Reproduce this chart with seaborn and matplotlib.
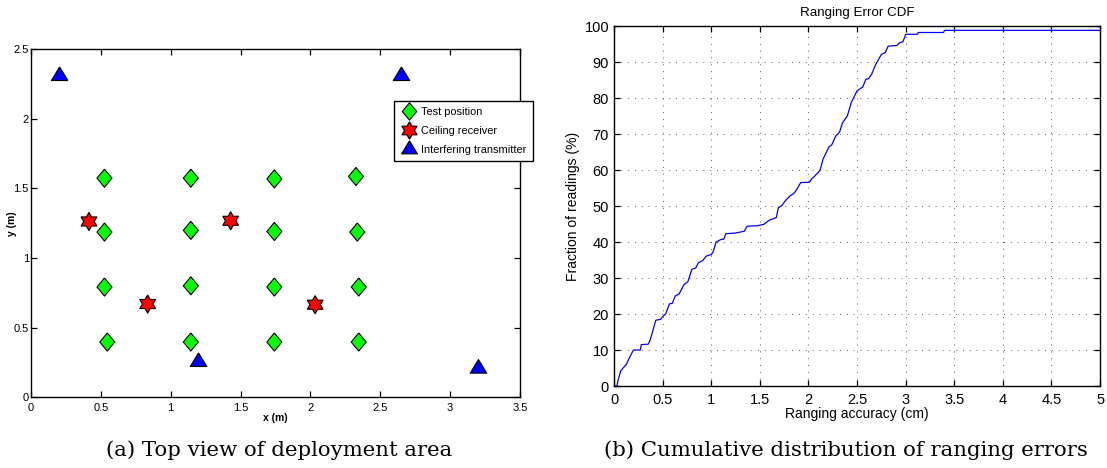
import numpy as np
import pandas as pd
import seaborn as sns
from matplotlib import pyplot as plt

# deployment area (m)
test_x = [0.526, 0.526, 0.526, 0.546, 1.144, 1.144, 1.144, 1.144,
          1.742, 1.742, 1.742, 1.742, 2.326, 2.336, 2.346, 2.346]
test_y = [1.574, 1.187, 0.792, 0.397, 1.574, 1.199, 0.801, 0.397,
          1.569, 1.191, 0.792, 0.397, 1.586, 1.187, 0.792, 0.397]
recv_x = [0.415, 1.429, 0.835, 2.034]
recv_y = [1.263, 1.268, 0.670, 0.665]
intf_x = [0.205, 2.652, 1.199, 3.203]
intf_y = [2.308, 2.308, 0.254, 0.206]
labels = ["Test position", "Ceiling receiver", "Interfering transmitter"]

# ranging error CDF
acc = [0.0, 0.03, 0.04, 0.07, 0.10, 0.13, 0.16, 0.20, 0.27, 0.28, 0.35, 0.37,
       0.43, 0.48, 0.50, 0.53, 0.57, 0.60, 0.63, 0.67, 0.72, 0.76, 0.80, 0.84,
       0.87, 0.91, 0.95, 1.00, 1.02, 1.05, 1.10, 1.13, 1.15, 1.25, 1.34, 1.37,
       1.47, 1.54, 1.60, 1.67, 1.69, 1.73, 1.76, 1.81, 1.85, 1.88, 1.92, 2.01,
       2.03, 2.10, 2.12, 2.15, 2.21, 2.24, 2.28, 2.32, 2.35, 2.40, 2.44, 2.50,
       2.56, 2.59, 2.62, 2.65, 2.69, 2.75, 2.79, 2.82, 2.91, 2.94, 2.97, 2.99,
       3.00, 3.12, 3.13, 3.39, 3.40, 5.0]
frac = [0.0, 0.0, 1.5, 4.3, 5.2, 6.2, 8.0, 10.0, 10.0, 11.5, 11.6, 12.6,
        18.3, 18.5, 19.3, 20.0, 22.8, 23.0, 25.0, 25.6, 28.2, 29.0, 32.4, 32.8,
        34.3, 34.8, 36.1, 36.5, 37.3, 40.0, 40.7, 40.8, 42.3, 42.5, 43.0, 44.4,
        44.5, 44.9, 46.1, 46.8, 49.5, 50.2, 51.4, 52.8, 53.5, 54.6, 56.5, 56.6,
        57.4, 59.3, 60.0, 63.0, 66.4, 67.0, 69.4, 70.5, 73.1, 75.0, 78.7, 82.0,
        83.1, 85.2, 85.4, 86.6, 89.2, 92.1, 92.6, 94.4, 94.6, 95.4, 95.6, 96.8,
        97.7, 97.7, 98.2, 98.2, 98.8, 98.8]

sns.set_style("ticks")
plt.rcParams["font.family"] = ["Liberation Sans", "DejaVu Sans"]
plt.rcParams.update({"text.color": "black", "axes.labelcolor": "black",
                     "xtick.color": "black", "ytick.color": "black",
                     "axes.edgecolor": "black"})

fig = plt.figure(figsize=(11.07, 4.68), dpi=100)
ax1 = fig.add_axes([0.0280, 0.1511, 0.4417, 0.7436])
ax2 = fig.add_axes([0.5547, 0.1752, 0.4390, 0.7692])

df = pd.DataFrame({
    "x": test_x + recv_x + intf_x,
    "y": test_y + recv_y + intf_y,
    "kind": [labels[0]] * len(test_x) + [labels[1]] * len(recv_x) + [labels[2]] * len(intf_x),
})

diamond = np.array([[0, 1], [0.83, 0], [0, -1], [-0.83, 0], [0, 1]])
ang = np.deg2rad(np.arange(12) * 30 + 90)
rad = np.where(np.arange(12) % 2 == 0, 1.0, 0.577)
hexagram = np.column_stack([rad * np.cos(ang), rad * np.sin(ang)])
hexagram = np.vstack([hexagram, hexagram[:1]])
triangle = np.array([[0, 1.1], [-1, -0.55], [1, -0.55], [0, 1.1]])

sns.scatterplot(data=df, x="x", y="y", hue="kind", style="kind",
                hue_order=labels, style_order=labels,
                palette={labels[0]: "#00ff00", labels[1]: "#ff0000", labels[2]: "#0000ff"},
                markers={labels[0]: diamond, labels[1]: hexagram, labels[2]: triangle},
                s=170, edgecolor="black", linewidth=0.8, ax=ax1, zorder=3)
ax1.set_xlim(0, 3.5)
ax1.set_ylim(0, 2.5)
ax1.set_xticks(np.arange(0, 3.51, 0.5))
ax1.set_yticks(np.arange(0, 2.51, 0.5))
ax1.set_xticklabels(["0", "0.5", "1", "1.5", "2", "2.5", "3", "3.5"])
ax1.set_yticklabels(["0", "0.5", "1", "1.5", "2", "2.5"])
ax1.tick_params(direction="in", length=4, width=0.9, labelsize=8,
                top=True, right=True)
ax1.tick_params(axis="x", pad=4)
ax1.tick_params(axis="y", pad=1.5)
ax1.set_xlabel("x (m)", fontsize=7.5, fontweight="bold")
ax1.set_ylabel("y (m)", fontsize=7.5, fontweight="bold")
ax1.xaxis.set_label_coords(0.5, -0.045)
ax1.yaxis.set_label_coords(-0.029, 0.5)
for sp in ax1.spines.values():
    sp.set_linewidth(1.0)
sns.move_legend(ax1, "upper left", bbox_to_anchor=(0.742, 0.851), title=None,
                frameon=True, fancybox=False, edgecolor="black", fontsize=7.9,
                borderpad=0.55, borderaxespad=0, handlelength=1.6,
                handletextpad=0.37, labelspacing=0.8, markerscale=1.0,
                framealpha=1)
leg = ax1.get_legend()
leg.get_frame().set_linewidth(1.0)
for h in leg.legend_handles:
    if hasattr(h, "set_markersize"):
        h.set_markersize(12.5)
        h.set_markeredgecolor("black")
    else:
        h.set_sizes([160])

sns.lineplot(x=acc, y=frac, color="blue", linewidth=0.9, ax=ax2)
ax2.set_xlim(0, 5)
ax2.set_ylim(0, 100)
ax2.set_xticks(np.arange(0, 5.01, 0.5))
ax2.set_yticks(np.arange(0, 101, 10))
ax2.set_xticklabels(["0", "0.5", "1", "1.5", "2", "2.5", "3", "3.5", "4", "4.5", "5"])
ax2.grid(True, linestyle=(0, (1.2, 7)), color="#444444", linewidth=0.6)
ax2.tick_params(direction="in", length=4, width=0.9, labelsize=10.5,
                top=True, right=True)
ax2.tick_params(axis="x", pad=5)
ax2.tick_params(axis="y", pad=3.6)
ax2.set_xlabel("Ranging accuracy (cm)", fontsize=10)
ax2.set_ylabel("Fraction of readings (%)", fontsize=10)
ax2.xaxis.set_label_coords(0.5, -0.058)
ax2.yaxis.set_label_coords(-0.07, 0.5)
ax2.set_title("Ranging Error CDF", fontsize=9.6, pad=7.5)
for sp in ax2.spines.values():
    sp.set_linewidth(1.0)

fig.text(0.2525, 0.0385, "(a) Top view of deployment area", ha="center",
         va="center", fontsize=15.3, family="DejaVu Serif")
fig.text(0.7642, 0.0385, "(b) Cumulative distribution of ranging errors",
         ha="center", va="center", fontsize=15.3, family="DejaVu Serif")

fig.savefig("out.png", dpi=100)
